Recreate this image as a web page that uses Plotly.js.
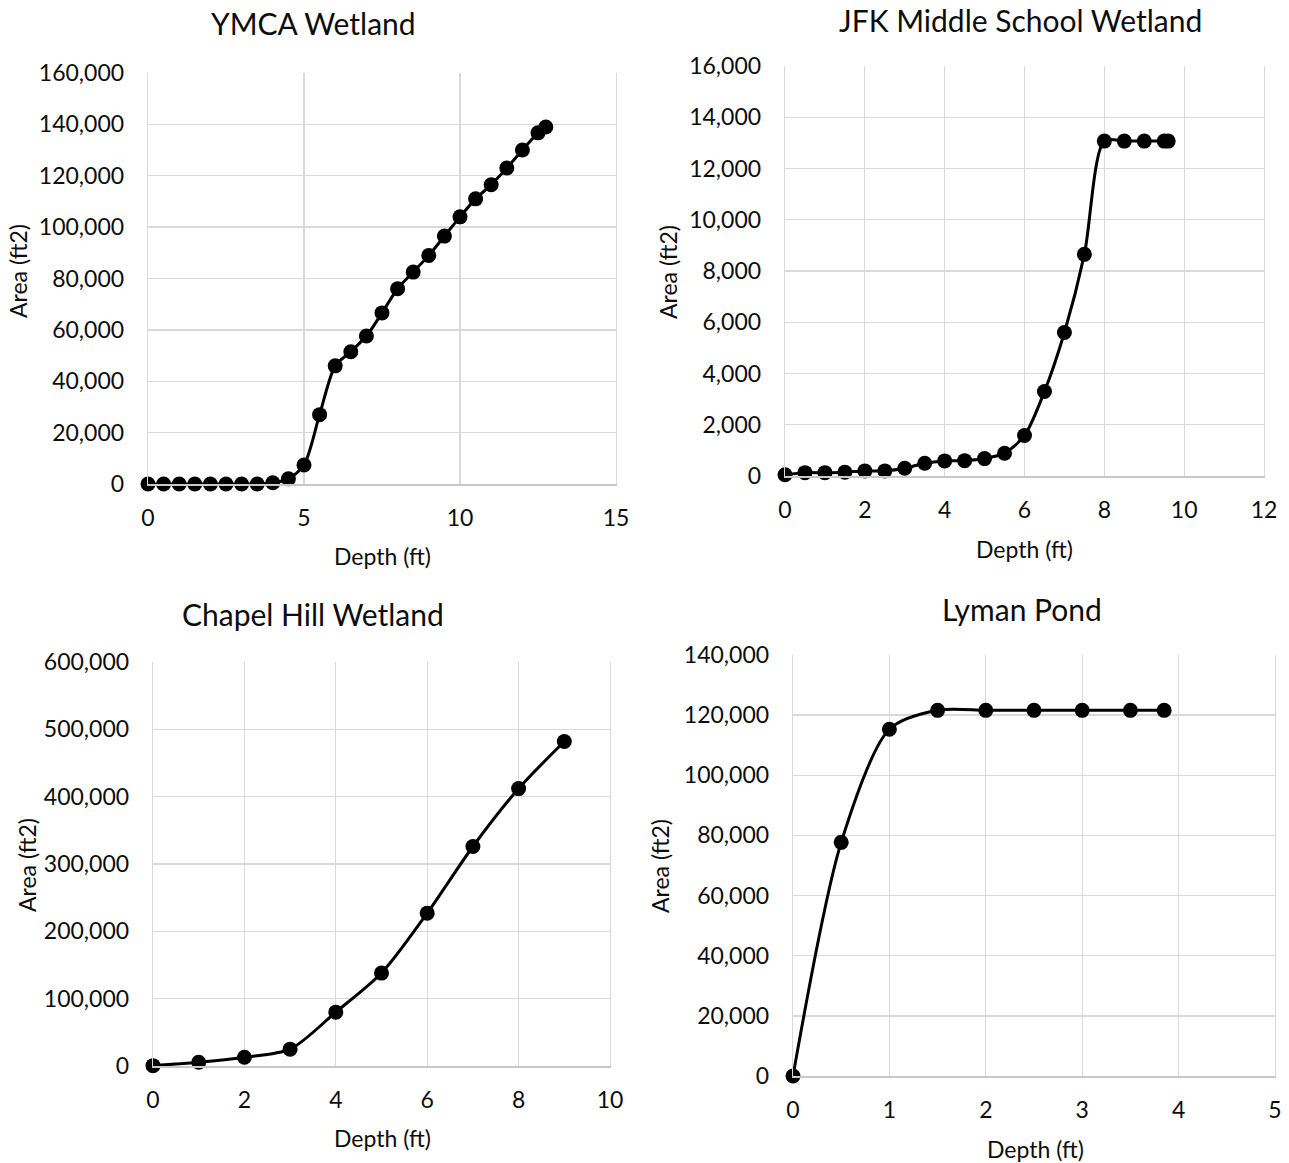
<!DOCTYPE html>
<html>
<head>
<meta charset="utf-8">
<script src="https://cdn.plot.ly/plotly-3.0.1.min.js"></script>
<style>html,body{margin:0;padding:0;background:#fff;}#chart{width:1289px;height:1163px;}</style>
</head>
<body>
<div id="chart"></div>
<script>
// ---- Data ----
const ymcaDepth = [0,0.5,1,1.5,2,2.5,3,3.5,4,4.5,5,5.5,6,6.5,7,7.5,8,8.5,9,9.5,10,10.5,11,11.5,12,12.5,12.75];
const ymcaArea  = [0,0,0,0,0,0,0,0,500,2000,7400,27000,46000,51500,57600,66600,76000,82500,89000,96500,104000,111000,116500,123000,130000,136700,139000];

const jfkDepth = [0,0.5,1,1.5,2,2.5,3,3.5,4,4.5,5,5.5,6,6.5,7,7.5,8,8.5,9,9.5,9.6];
const jfkArea  = [50,130,130,150,200,200,300,500,590,600,680,890,1580,3300,5600,8650,13070,13070,13070,13070,13070];

const chapelDepth = [0,1,2,3,4,5,6,7,8,9];
const chapelArea  = [500,5500,13000,25000,80000,138000,227000,326000,412000,482000];

const lymanDepth = [0,0.5,1,1.5,2,2.5,3,3.5,3.85];
const lymanArea  = [0,77700,115300,121600,121600,121600,121600,121600,121600];

const titles = ["YMCA Wetland","JFK Middle School Wetland","Chapel Hill Wetland","Lyman Pond"];
const xLabel = "Depth (ft)";
const yLabel = "Area (ft2)";

// ---- Layout helpers ----
const W = 1289, H = 1163;
const px = v => v / W;
const py = v => 1 - v / H;
const FONT = "Lato, 'Open Sans', sans-serif";
const TXT = '#0d0d0d';

function trace(x, y, n) {
  return {
    x: x, y: y, type: 'scatter', mode: 'lines+markers',
    xaxis: 'x' + (n === 1 ? '' : n), yaxis: 'y' + (n === 1 ? '' : n),
    line: {color: '#000', width: 3, shape: 'spline', smoothing: 0.8},
    marker: {color: '#000', size: 15},
    cliponaxis: false, hoverinfo: 'skip', showlegend: false
  };
}

function xax(l, r, range, dtick, anchor) {
  return {
    domain: [px(l), px(r)], anchor: anchor, range: range, dtick: dtick, tick0: 0,
    showgrid: true, gridcolor: '#d9d9d9', gridwidth: 1.3,
    showline: true, linecolor: '#c8c8c8', linewidth: 1.5, mirror: false,
    zeroline: false, ticks: 'outside', ticklen: 13, tickcolor: 'rgba(0,0,0,0)',
    tickfont: {family: FONT, size: 23, color: TXT}, fixedrange: true
  };
}
function yax(t, b, range, dtick, anchor) {
  return {
    domain: [py(b), py(t)], anchor: anchor, range: range, dtick: dtick, tick0: 0,
    showgrid: true, gridcolor: '#d9d9d9', gridwidth: 1.3,
    showline: true, linecolor: '#d9d9d9', linewidth: 1.3, mirror: true,
    zeroline: false, ticks: 'outside', ticklen: 18, tickcolor: 'rgba(0,0,0,0)',
    tickformat: ',d', tickfont: {family: FONT, size: 23, color: TXT}, fixedrange: true
  };
}

const boxes = [
  {l:148, r:616, t:73,  b:484,  xr:[0,15], xd:5, yr:[0,160000], yd:20000},
  {l:785, r:1264, t:66, b:476,  xr:[0,12], xd:2, yr:[0,16000],  yd:2000},
  {l:153, r:610, t:662, b:1066, xr:[0,10], xd:2, yr:[0,600000], yd:100000},
  {l:793, r:1275, t:655, b:1076, xr:[0,5], xd:1, yr:[0,140000], yd:20000}
];

const layout = {
  width: W, height: H, margin: {l:0, r:0, t:0, b:0},
  paper_bgcolor: '#fff', plot_bgcolor: '#fff', showlegend: false,
  font: {family: FONT, color: TXT},
  annotations: []
};
boxes.forEach((b, i) => {
  const n = i + 1, s = n === 1 ? '' : n;
  layout['xaxis' + s] = xax(b.l, b.r, b.xr, b.xd, 'y' + s);
  layout['yaxis' + s] = yax(b.t, b.b, b.yr, b.yd, 'x' + s);
});

// Titles and axis titles as annotations placed at reference positions
const titlePos = [[313,23],[1021,20],[313,614],[1022,609]];
const xTitlePos = [[382,556],[1024,549],[382,1138],[1035,1149]];
const yTitlePos = [[18,271],[668,272],[27,865],[660,866]];
titles.forEach((t, i) => {
  layout.annotations.push({text: t, xref:'paper', yref:'paper', x: px(titlePos[i][0]), y: py(titlePos[i][1]),
    xanchor:'center', yanchor:'middle', showarrow:false, font:{family:FONT, size:30, color:TXT}});
  layout.annotations.push({text: xLabel, xref:'paper', yref:'paper', x: px(xTitlePos[i][0]), y: py(xTitlePos[i][1]),
    xanchor:'center', yanchor:'middle', showarrow:false, font:{family:FONT, size:23, color:TXT}});
  layout.annotations.push({text: yLabel, xref:'paper', yref:'paper', x: px(yTitlePos[i][0]), y: py(yTitlePos[i][1]),
    xanchor:'center', yanchor:'middle', textangle:-90, showarrow:false, font:{family:FONT, size:23, color:TXT}});
});

const data = [
  trace(ymcaDepth, ymcaArea, 1),
  trace(jfkDepth, jfkArea, 2),
  trace(chapelDepth, chapelArea, 3),
  trace(lymanDepth, lymanArea, 4)
];

Plotly.newPlot('chart', data, layout, {staticPlot: true, displayModeBar: false});
</script>
</body>
</html>
